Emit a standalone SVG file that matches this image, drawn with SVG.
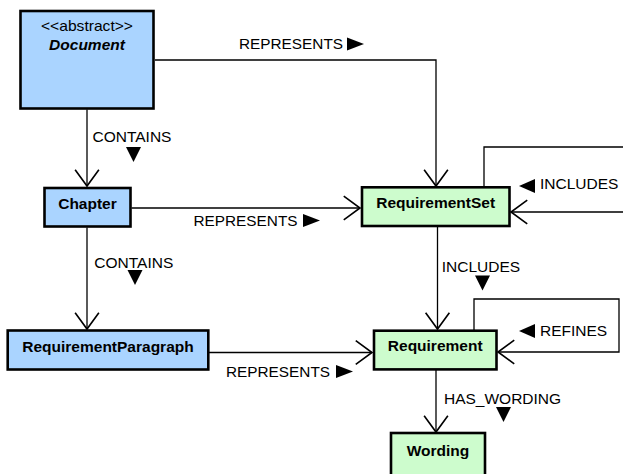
<svg xmlns="http://www.w3.org/2000/svg" width="623" height="474" viewBox="0 0 623 474">
  <style>
    .blue { fill: #aad4ff; stroke: #000; stroke-width: 2.6; }
    .green { fill: #cdfccd; stroke: #000; stroke-width: 2.6; }
    .name { font-family: "Liberation Sans", Arial, sans-serif; font-size: 15.5px; font-weight: bold; text-anchor: middle; fill: #000; }
    .stereo { font-family: "Liberation Sans", Arial, sans-serif; font-size: 15px; text-anchor: middle; fill: #000; }
    .lbl { font-family: "Liberation Sans", Arial, sans-serif; font-size: 15.5px; fill: #000; }
    .edge { fill: none; stroke: #000; stroke-width: 1.3; marker-end: url(#open); }
  </style>
  <defs>
    <marker id="open" markerUnits="userSpaceOnUse" markerWidth="30" markerHeight="30" refX="0" refY="0" viewBox="-15 -12 17 24" orient="auto">
      <path d="M-13,-9.5 L0,0 L-13,9.5" fill="none" stroke="#000" stroke-width="1.3"/>
    </marker>
    <path id="triR" d="M0,0 L17,6.5 L0,13 Z"/>
    <path id="triL" d="M16,0 L0,7 L16,14 Z"/>
    <path id="triD" d="M0,0 L15,0 L7.5,15 Z"/>
  </defs>

  <!-- connectors -->
  <g id="connectors">
    <path class="edge" d="M155,60 H436 V186"/>
    <path class="edge" d="M87,109.5 V186"/>
    <path class="edge" d="M131.5,208 H360"/>
    <path class="edge" d="M87,227.5 V329"/>
    <path class="edge" d="M437.5,227 V329"/>
    <path class="edge" d="M209,352.5 H372"/>
    <path class="edge" d="M436,370 V432"/>
    <path class="edge" d="M484,187 V147 H640 V212 H511"/>
    <path class="edge" d="M474,330 V299 H619 V352 H498"/>

    <!-- connector labels -->
    <text class="lbl" x="239" y="48.7" textLength="104" lengthAdjust="spacingAndGlyphs">REPRESENTS</text>
    <use href="#triR" x="347" y="37.5"/>

    <text class="lbl" x="92.5" y="142">CONTAINS</text>
    <use href="#triD" x="126" y="147"/>

    <text class="lbl" x="193.5" y="225.7" textLength="104" lengthAdjust="spacingAndGlyphs">REPRESENTS</text>
    <use href="#triR" x="303" y="214"/>

    <use href="#triL" x="519" y="179"/>
    <text class="lbl" x="540" y="189.3">INCLUDES</text>

    <text class="lbl" x="94.3" y="268.3">CONTAINS</text>
    <use href="#triD" x="127.5" y="270"/>

    <text class="lbl" x="441.7" y="272">INCLUDES</text>
    <use href="#triD" x="475" y="275.5"/>

    <use href="#triL" x="519" y="324"/>
    <text class="lbl" x="540" y="336">REFINES</text>

    <text class="lbl" x="226" y="377" textLength="104" lengthAdjust="spacingAndGlyphs">REPRESENTS</text>
    <use href="#triR" x="336" y="365"/>

    <text class="lbl" x="444" y="404.3">HAS_WORDING</text>
    <use href="#triD" x="496" y="407"/>
  </g>

  <!-- nodes -->
  <g id="document">
    <rect class="blue" x="20.5" y="11" width="133" height="97.5" stroke-width="3"/>
    <text class="stereo" x="87" y="30.7" textLength="92" lengthAdjust="spacingAndGlyphs">&lt;&lt;abstract&gt;&gt;</text>
    <text class="name" x="87" y="49.5" font-style="italic">Document</text>
  </g>

  <g id="chapter">
    <rect class="blue" x="44.5" y="188" width="86" height="38.5"/>
    <text class="name" x="87.5" y="209.3">Chapter</text>
  </g>

  <g id="requirementParagraph">
    <rect class="blue" x="7.7" y="330.5" width="200.6" height="39"/>
    <text class="name" x="108" y="351.5">RequirementParagraph</text>
  </g>

  <g id="requirementSet">
    <rect class="green" x="362" y="187.3" width="147.5" height="38.7"/>
    <text class="name" x="435.7" y="208.4">RequirementSet</text>
  </g>

  <g id="requirement">
    <rect class="green" x="374" y="330.7" width="122.5" height="38.7"/>
    <text class="name" x="435.2" y="351.2">Requirement</text>
  </g>

  <g id="wording">
    <rect class="green" x="391" y="433" width="94" height="50"/>
    <text class="name" x="438" y="456">Wording</text>
  </g>
</svg>
